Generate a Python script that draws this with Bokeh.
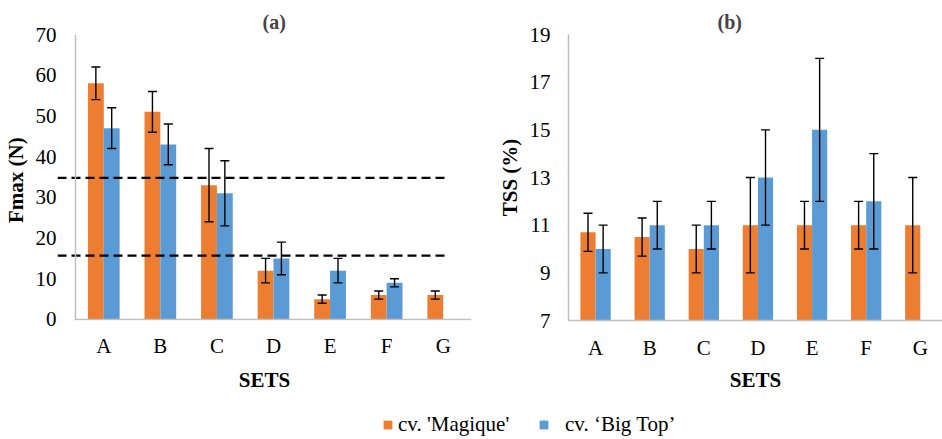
from bokeh.plotting import figure
from bokeh.models import (ColumnDataSource, Range1d, FixedTicker, Whisker, TeeHead,
                          Span, Legend, LegendItem)
from bokeh.transform import dodge
from bokeh.layouts import column, row
from bokeh.embed import file_html
from bokeh.resources import INLINE

# ---------------- data ----------------
sets = ["A", "B", "C", "D", "E", "F", "G"]

fmax_magique = [58, 51, 33, 12, 5, 6, 6]
fmax_magique_sd = [4, 5, 9, 3, 1, 1, 1]
fmax_bigtop = [47, 43, 31, 15, 12, 9]
fmax_bigtop_sd = [5, 5, 8, 4, 3, 1]

tss_magique = [10.7, 10.5, 10.0, 11, 11, 11, 11]
tss_magique_sd = [0.8, 0.8, 1, 2, 1, 1, 2]
tss_bigtop = [10, 11, 11, 13, 15, 12]
tss_bigtop_sd = [1, 1, 1, 2, 3, 2]

fmax_thresholds = [34.8, 15.7]

fmax_ticks = [0, 10, 20, 30, 40, 50, 60, 70]
tss_ticks = [7, 9, 11, 13, 15, 17, 19]

label_magique = "cv. 'Magique'"
label_bigtop = "cv. \u2018Big Top\u2019"

# ---------------- style ----------------
ORANGE = "#ED7D31"
BLUE = "#5B9BD5"
AXIS_GRAY = "#BFBFBF"
FONT = "Liberation Serif"
BAR_W = 0.28
TICK_FS = "21px"
LABEL_FS = "21px"


def source(values, sd):
    return ColumnDataSource(dict(
        x=list(range(len(values))),
        top=values,
        upper=[v + s for v, s in zip(values, sd)],
        lower=[v - s for v, s in zip(values, sd)],
    ))


def whisker(src, offset):
    return Whisker(source=src, base=dodge("x", offset), upper="upper", lower="lower",
                   line_color="black", line_width=1.4, level="annotation",
                   upper_head=TeeHead(size=9, line_color="black", line_width=1.4),
                   lower_head=TeeHead(size=9, line_color="black", line_width=1.4))


def style_fig(p, title, title_offset, ylabel, yticks, axis_line_color,
              y_label_standoff, x_label_standoff, x_axis_label_standoff):
    p.outline_line_color = None
    p.grid.visible = False
    p.title.text = title
    p.title.text_font = FONT
    p.title.text_font_style = "bold"
    p.title.text_font_size = "20px"
    p.title.align = "left"
    p.title.offset = title_offset
    p.title.standoff = 3
    yax = p.left[0]
    xax = p.below[0]
    for ax in (xax, yax):
        ax.axis_line_color = axis_line_color
        ax.axis_line_width = 1.5
        ax.major_tick_line_color = None
        ax.minor_tick_line_color = None
        ax.major_tick_out = 0
        ax.major_tick_in = 0
        ax.minor_tick_out = 0
        ax.minor_tick_in = 0
        ax.major_label_text_font = FONT
        ax.major_label_text_font_size = TICK_FS
        ax.major_label_text_color = "black"
        ax.axis_label_text_font = FONT
        ax.axis_label_text_font_size = LABEL_FS
        ax.axis_label_text_font_style = "bold"
        ax.axis_label_text_color = "black"
    yax.ticker = FixedTicker(ticks=yticks)
    yax.axis_label = ylabel
    yax.major_label_standoff = y_label_standoff
    yax.axis_label_standoff = 5
    xax.ticker = FixedTicker(ticks=list(range(len(sets))))
    xax.major_label_overrides = {i: s for i, s in enumerate(sets)}
    xax.axis_label = "SETS"
    xax.major_label_standoff = x_label_standoff
    xax.axis_label_standoff = x_axis_label_standoff


# ---------------- (a) Fmax ----------------
left_overhang = 18 / 56.57
p1 = figure(width=483, height=400,
            x_range=Range1d(-0.5 - left_overhang, len(sets) - 0.5),
            y_range=Range1d(-0.25, 70),
            output_backend="svg", toolbar_location=None,
            min_border_left=57, min_border_right=12,
            min_border_top=33, min_border_bottom=78)
style_fig(p1, "(a)", 205, "Fmax  (N)", fmax_ticks, None, 1, 13, 7)

s1m = source(fmax_magique, fmax_magique_sd)
s1b = source(fmax_bigtop, fmax_bigtop_sd)
p1.vbar(x=dodge("x", -BAR_W / 2), top="top", bottom=0, width=BAR_W, source=s1m,
        fill_color=ORANGE, line_color=None)
p1.vbar(x=dodge("x", BAR_W / 2), top="top", bottom=0, width=BAR_W, source=s1b,
        fill_color=BLUE, line_color=None)

# axis lines drawn in the frame, so that the dashed lines may overhang the y axis
p1.add_layout(Span(location=-0.5, dimension="height", line_color=AXIS_GRAY, line_width=1.5))
p1.segment(x0=[-0.5], x1=[len(sets) - 0.5], y0=[0], y1=[0],
           line_color=AXIS_GRAY, line_width=1.5)

DASH_END = 6.08
p1.segment(x0=[-0.5 - left_overhang] * len(fmax_thresholds),
           x1=[DASH_END] * len(fmax_thresholds),
           y0=fmax_thresholds, y1=fmax_thresholds,
           line_color="black", line_width=2.2, line_dash="9 5")

p1.add_layout(whisker(s1m, -BAR_W / 2))
p1.add_layout(whisker(s1b, BAR_W / 2))

# ---------------- (b) TSS ----------------
p2 = figure(width=459, height=400,
            x_range=Range1d(-0.5, 6.41),
            y_range=Range1d(7, 19),
            output_backend="svg", toolbar_location=None,
            min_border_left=85, min_border_right=0,
            min_border_top=34, min_border_bottom=80)
style_fig(p2, "(b)", 149, "TSS (%)", tss_ticks, AXIS_GRAY, 18, 15, 5)

s2m = source(tss_magique, tss_magique_sd)
s2b = source(tss_bigtop, tss_bigtop_sd)
p2.vbar(x=dodge("x", -BAR_W / 2), top="top", bottom=7, width=BAR_W, source=s2m,
        fill_color=ORANGE, line_color=None)
p2.vbar(x=dodge("x", BAR_W / 2), top="top", bottom=7, width=BAR_W, source=s2b,
        fill_color=BLUE, line_color=None)
p2.add_layout(whisker(s2m, -BAR_W / 2))
p2.add_layout(whisker(s2b, BAR_W / 2))

# ---------------- legend ----------------
pl = figure(width=942, height=39, x_range=Range1d(0, 1), y_range=Range1d(0, 1),
            output_backend="svg", toolbar_location=None,
            x_axis_location=None, y_axis_location=None, min_border=0)
pl.outline_line_color = None
pl.grid.visible = False
# legend proxies: one bar each, placed outside the visible range
rm = pl.vbar(x=[-1], top=[-1], bottom=-2, width=0.5, fill_color=ORANGE, line_color=None)
rb = pl.vbar(x=[-1], top=[-1], bottom=-2, width=0.5, fill_color=BLUE, line_color=None)


def legend(label, rend, x, standoff):
    return Legend(items=[LegendItem(label=label, renderers=[rend])],
                  location=(x, 2), orientation="horizontal",
                  glyph_width=11, glyph_height=11, label_standoff=standoff,
                  label_height=20, padding=0, margin=0, spacing=0,
                  border_line_color=None, background_fill_alpha=0,
                  label_text_font=FONT, label_text_font_size="21px",
                  label_text_color="black")


pl.add_layout(legend(label_magique, rm, 382, 5))
pl.add_layout(legend(label_bigtop, rb, 538, 16))

layout = column(row(p1, p2), pl)
open("out.html", "w").write(file_html(layout, INLINE))
